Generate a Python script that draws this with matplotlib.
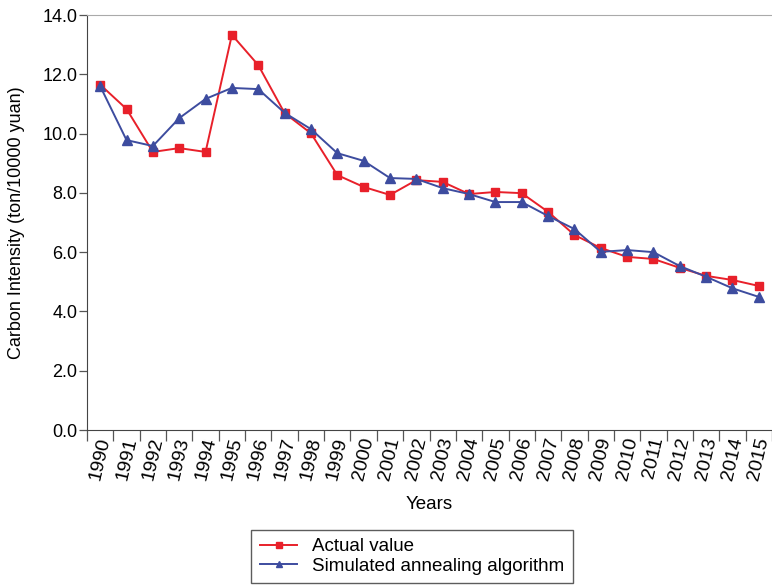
import numpy as np
import matplotlib
matplotlib.use('Agg')
import matplotlib.pyplot as plt

plt.rcParams['font.family'] = ['Liberation Sans', 'DejaVu Sans']

# carbon intensity, ton / 10000 yuan
years = [str(y) for y in range(1990, 2016)]
actual = [11.65, 10.83, 9.38, 9.51, 9.38, 13.33, 12.31, 10.69, 10.01, 8.60,
          8.20, 7.93, 8.43, 8.37, 7.96, 8.03, 7.99, 7.36, 6.58, 6.14,
          5.84, 5.77, 5.47, 5.20, 5.06, 4.86]
annealing = [11.60, 9.78, 9.58, 10.52, 11.17, 11.54, 11.50, 10.70, 10.15, 9.34,
             9.08, 8.50, 8.47, 8.16, 7.96, 7.69, 7.69, 7.22, 6.78, 6.01,
             6.07, 6.00, 5.53, 5.17, 4.78, 4.49]
yticks = [0, 2, 4, 6, 8, 10, 12, 14]

fig = plt.figure(figsize=(7.72, 5.86), dpi=100)
ax = fig.add_axes([0.1127, 0.2662, 0.8873, 0.7082])

x = np.arange(len(years))
ax.plot(x, actual, color='#e8202a', lw=1.4, marker='s', ms=6, label='Actual value')
ax.plot(x, annealing, color='#3d4c9f', lw=1.4, marker='^', ms=6.5,
        label='Simulated annealing algorithm')

ax.set_xlim(-0.5, 25.25)
ax.set_ylim(0, 14)

# category axis: labels at centres, tick marks on the boundaries
ax.set_xticks(x)
ax.set_xticklabels(years, rotation=77, ha='center', va='top')
ax.set_xticks(np.arange(-0.5, len(years), 1.0), minor=True)
ax.tick_params(axis='x', which='major', length=0, pad=4, labelsize=14)
ax.tick_params(axis='x', which='minor', length=8, width=0.9, color='#555555')

ax.set_yticks(yticks)
ax.set_yticklabels([f'{v:.1f}' for v in yticks])
ax.tick_params(axis='y', length=6, width=0.9, color='#555555', pad=1, labelsize=13)

ax.spines['right'].set_visible(False)
ax.spines['top'].set_color('#aaaaaa')
ax.spines['left'].set_color('#444444')
ax.spines['bottom'].set_color('#444444')

ax.set_ylabel('Carbon Intensity (ton/10000 yuan)', fontsize=13, labelpad=12)
ax.set_xlabel('Years', fontsize=13.5, labelpad=10)

leg = fig.legend(loc='lower center', bbox_to_anchor=(0.534, 0.0), fontsize=13.5,
                 frameon=True, fancybox=False, edgecolor='#333333',
                 handlelength=2.0, borderpad=0.45, labelspacing=0.12,
                 borderaxespad=0.15, markerscale=0.7)
leg.get_frame().set_linewidth(1.0)

fig.savefig('out.png', dpi=100)
